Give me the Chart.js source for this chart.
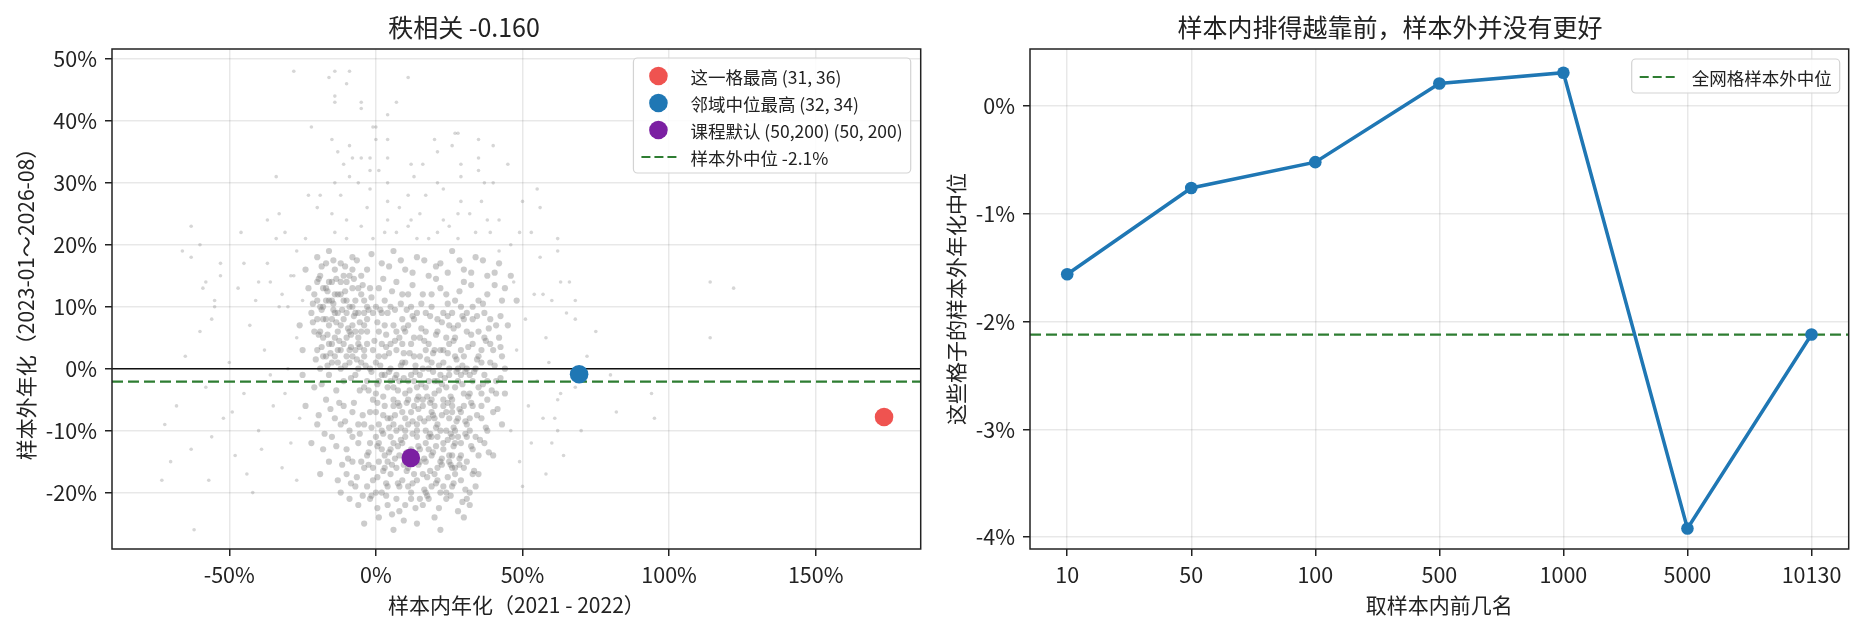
<!DOCTYPE html>
<html>
<head>
<meta charset="utf-8">
<script src="https://cdn.jsdelivr.net/npm/chart.js@4.4.1/dist/chart.umd.min.js"></script>
<style>
  html, body { margin: 0; padding: 0; background: #fff; }
  #wrap { position: relative; width: 1855px; height: 630px; }
  #c1 { position: absolute; left: 0; top: 0; width: 930px; height: 630px; }
  #c2 { position: absolute; left: 930px; top: 0; width: 925px; height: 630px; }
</style>
</head>
<body>
<div id="wrap">
  <canvas id="c1" width="930" height="630"></canvas>
  <canvas id="c2" width="925" height="630"></canvas>
</div>
<script>
// ---- left panel: in-sample vs out-of-sample annualised return (%) ----
// grid cloud
const cloudCore = [
  [-21,12],[-20,8],[-19,15],[-18,5],[-18,10],[-17,2],[-17,13],[-16,7],[-16,-1],[-15,11],[-15,4],[-14,16],[-14,9],[-13,1],[-13,6],
  [-12,12],[-12,3],[-11,8],[-11,-2],[-10,14],[-10,5],[-9,10],[-9,1],[-8,7],[-8,13],[-7,3],[-7,-1],[-6,9],[-6,5],[-5,12],[-5,1],
  [-4,7],[-4,-3],[-3,10],[-3,4],[-20,3],[-19,10],[-18,13],[-17,8],[-16,11],[-15,1],[-14,5],[-13,9],[-12,14],[-11,4],[-10,9],
  [-9,6],[-8,2],[-7,11],[-6,0],[-5,6],[-4,11],[-21,6],[-19,0],[-17,17],[-15,8],[-13,3],[-11,11],[-9,15],[-7,6],[-22,9],[-20,14],
  [-18,2],[-16,4],[-14,12],[-12,7],[-10,2],[-8,10],[-6,13],[-4,2],
  [-2,13],[3,11],[7,14],[12,10],[16,12],[22,13],[27,11],[33,10],[38,12],[43,11],[0,10],[9,12],[19,10],[30,14],
  [-3,8],[1,6],[4,9],[8,5],[11,7],[14,9],[17,6],[21,8],[24,5],[28,7],[31,9],[35,6],[39,8],[42,5],[2,9],[13,5],[26,9],[37,5],[45,7],[6,7],
  [-4,3],[0,1],[2,4],[5,0],[7,3],[10,1],[12,4],[15,2],[18,0],[20,3],[23,1],[25,4],[28,0],[30,2],[33,4],[36,1],[40,3],[44,0],[1,2],
  [9,4],[16,0],[22,3],[27,2],[34,0],[3,-1],
  [-3,-2],[0,-4],[2,-1],[4,-3],[6,-5],[8,-2],[10,-4],[12,-1],[14,-3],[16,-5],[18,-2],[20,-4],[22,-1],[24,-3],[26,-5],[28,-2],
  [30,-4],[32,-1],[35,-3],[38,-5],[41,-2],[44,-4],[5,-2],[11,-5],[17,-3],[23,-5],[29,-1],[36,-4],[-1,-5],[13,-2],[25,-1],[19,-5],
  [-2,-7],[1,-9],[3,-6],[5,-8],[7,-10],[9,-7],[11,-9],[13,-6],[15,-8],[17,-10],[19,-7],[21,-9],[23,-6],[25,-8],[27,-10],[29,-7],
  [31,-9],[33,-6],[36,-8],[40,-7],[43,-9],[6,-6],[14,-10],[20,-6],[26,-7],[32,-10],[-4,-9],[10,-8],[24,-10],[18,-8],
  [-6,-12],[-3,-14],[0,-11],[2,-13],[4,-15],[6,-12],[8,-14],[10,-11],[12,-13],[15,-15],[17,-12],[19,-14],[21,-11],[23,-13],
  [25,-15],[27,-12],[29,-14],[31,-11],[33,-13],[37,-12],[40,-14],[-8,-15],[14,-11],[22,-15],[28,-11],[5,-11],[18,-13],[26,-14],[1,-15],
  [-10,-17],[-7,-19],[-4,-16],[-1,-18],[2,-20],[5,-17],[8,-19],[11,-16],[14,-18],[17,-20],[20,-17],[23,-19],[26,-16],[29,-18],
  [32,-20],[35,-17],[-12,-20],[3,-16],[12,-20],[21,-18],[27,-17],[9,-18],[16,-17],[24,-20],[30,-16],
  [-6,-22],[-2,-21],[1,-24],[4,-22],[8,-23],[12,-21],[16,-22],[20,-24],[24,-21],[28,-23],[32,-22],[-4,-25],[6,-26],[14,-25],
  [22,-26],[30,-24],[10,-22],[-9,-21],[18,-21],
  [-24,-6],[-20,-9],[-17,-5],[-14,-8],[-11,-6],[-9,-10],[-22,-12],[-18,-13],[-15,-11],[-12,-9],[-8,-7],[-19,-17],[-16,-15],
  [-13,-18],[-10,-13],[-6,-9],[-21,-3],[-25,-1]
];
const cloudDense = [
  [-19,6],[-17,11],[-15,14],[-13,12],[-11,15],[-9,3],[-7,9],[-5,15],[-3,6],[-1,9],[1,13],[3,7],[5,10],[7,6],[9,8],[11,12],
  [13,8],[15,5],[17,9],[19,12],[21,6],[23,9],[25,7],[27,5],[29,10],[31,6],[33,8],[35,11],[37,9],[39,4],[41,7],[-1,3],[1,-2],
  [3,2],[5,4],[7,-1],[9,1],[11,-2],[13,2],[15,-1],[17,3],[19,1],[21,-2],[23,3],[25,0],[27,-3],[29,3],[31,0],[33,-2],[35,2],
  [37,-1],[39,1],[41,-4],[43,2],[0,-7],[2,-10],[4,-8],[6,-9],[8,-6],[10,-10],[12,-7],[14,-9],[16,-6],[18,-11],[20,-8],[22,-10],
  [24,-7],[26,-11],[28,-8],[30,-6],[32,-8],[34,-11],[36,-6],[38,-10],[1,-12],[3,-14],[5,-13],[7,-16],[9,-12],[11,-14],[13,-17],
  [15,-13],[17,-15],[19,-11],[21,-16],[23,-12],[25,-14],[27,-16],[29,-12],[31,-15],[33,-17],[35,-14],[-2,-12],[-5,-15],[-8,-11],
  [-1,-16],[0,-20],[4,-19],[7,-21],[11,-19],[15,-21],[19,-19],[22,-20],[26,-19],[31,-21],[34,-19],[-3,-19],[6,-3],[14,-5],
  [20,-2],[26,-6],[32,-4],[38,-2],[10,6],[18,4],[24,12],[30,8],[36,3],[-2,0],[-18,8],[-14,2],[-10,11],[-6,4],[-16,14],[-12,0],
  [-20,11],[-8,16],[-4,9],
  [-24,16],[-20,18],[-16,19],[-12,17],[-8,18],[-3,16],[2,17],[6,19],[10,16],[14,18],[18,15],[22,17],[26,19],[30,16],[34,18],
  [38,15],[42,17],[46,15],[48,11],[44,13],[-23,13],[-26,7],[-25,3]
];
const cloudFill = [
  [-19.5,14.5],[-16.5,12.5],[-13.5,14.5],[-10.5,12.5],[-7.5,14.5],[-4.5,13.5],[-1.5,11.5],[2.5,14.5],[5.5,12.5],[8.5,10.5],
  [12.5,13.5],[15.5,10.5],[20.5,14.5],[24.5,10.5],[28.5,12.5],[32.5,13.5],[36.5,10.5],[40.5,13.5],[-21.5,10.5],[-14.5,10.5],
  [-21.5,7.5],[-18.5,9.5],[-16.5,5.5],[-13.5,7.5],[-11.5,9.5],[-9.5,6.5],[-7.5,8.5],[-5.5,7.5],[-2.5,9.5],[0.5,7.5],[3.5,5.5],
  [6.5,9.5],[9.5,6.5],[12.5,8.5],[15.5,6.5],[18.5,8.5],[20.5,5.5],[22.5,7.5],[26.5,6.5],[29.5,8.5],[32.5,5.5],[34.5,8.5],
  [38.5,6.5],[42.5,8.5],[-19.5,5.5],[-14.5,9.5],[-8.5,5.5],[1.5,9.5],[10.5,9.5],[24.5,8.5],
  [-20.5,1.5],[-18.5,3.5],[-15.5,2.5],[-12.5,4.5],[-10.5,0.5],[-8.5,3.5],[-6.5,1.5],[-3.5,0.5],[-0.5,4.5],[1.5,0.5],[4.5,2.5],
  [6.5,4.5],[8.5,0.5],[11.5,2.5],[13.5,0.5],[16.5,4.5],[19.5,2.5],[21.5,0.5],[24.5,2.5],[26.5,4.5],[29.5,0.5],[31.5,3.5],
  [34.5,1.5],[37.5,4.5],[40.5,0.5],[42.5,3.5],[-16.5,0.5],[-5.5,3.5],[3.5,3.5],[17.5,1.5],[27.5,1.5],[9.5,2.5],
  [-8.5,-1.5],[-5.5,-3.5],[-1.5,-0.5],[0.5,-2.5],[2.5,-4.5],[4.5,-0.5],[7.5,-3.5],[9.5,-1.5],[11.5,-3.5],[13.5,-0.5],[15.5,-2.5],
  [17.5,-4.5],[19.5,-0.5],[21.5,-3.5],[23.5,-1.5],[25.5,-4.5],[27.5,-0.5],[29.5,-2.5],[31.5,-4.5],[33.5,-0.5],[36.5,-2.5],
  [39.5,-3.5],[42.5,-1.5],[-13.5,-3.5],[-18.5,-2.5],[-2.5,-3.5],[6.5,-1.5],[14.5,-4.5],[22.5,-2.5],[30.5,-0.5],
  [-15.5,-6.5],[-10.5,-8.5],[-7.5,-5.5],[-4.5,-7.5],[-1.5,-9.5],[0.5,-5.5],[2.5,-7.5],[4.5,-9.5],[6.5,-7.5],[8.5,-9.5],
  [10.5,-5.5],[12.5,-8.5],[14.5,-6.5],[16.5,-8.5],[18.5,-5.5],[20.5,-9.5],[22.5,-7.5],[24.5,-5.5],[26.5,-9.5],[28.5,-6.5],
  [30.5,-8.5],[32.5,-5.5],[34.5,-7.5],[37.5,-9.5],[41.5,-6.5],[-19.5,-7.5],[-12.5,-5.5],[7.5,-5.5],[19.5,-7.5],[27.5,-8.5],
  [-13.5,-12.5],[-9.5,-14.5],[-5.5,-10.5],[-2.5,-13.5],[0.5,-12.5],[2.5,-10.5],[4.5,-13.5],[6.5,-14.5],[8.5,-11.5],[10.5,-13.5],
  [12.5,-10.5],[14.5,-12.5],[16.5,-14.5],[18.5,-10.5],[20.5,-12.5],[22.5,-14.5],[24.5,-11.5],[26.5,-12.5],[28.5,-14.5],
  [30.5,-10.5],[32.5,-12.5],[35.5,-11.5],[38.5,-13.5],[-17.5,-10.5],[7.5,-12.5],[13.5,-14.5],[19.5,-13.5],[25.5,-10.5],
  [-11.5,-15.5],[-6.5,-17.5],[-2.5,-15.5],[0.5,-17.5],[3.5,-18.5],[5.5,-15.5],[7.5,-18.5],[10.5,-16.5],[12.5,-18.5],[14.5,-15.5],
  [16.5,-19.5],[18.5,-16.5],[20.5,-18.5],[22.5,-15.5],[24.5,-17.5],[26.5,-18.5],[28.5,-15.5],[30.5,-19.5],[33.5,-16.5],
  [-8.5,-18.5],[2.5,-16.5],[9.5,-15.5],[17.5,-17.5],[25.5,-15.5],
  [-4.5,-20.5],[0.5,-22.5],[3.5,-20.5],[9.5,-24.5],[13.5,-22.5],[17.5,-20.5],[21.5,-22.5],[25.5,-20.5],[29.5,-21.5],[5.5,-23.5],
  [-1.5,-20.5],
  [-18.5,16.5],[-14.5,17.5],[-10.5,16.5],[-6.5,17.5],[-1.5,18.5],[4.5,16.5],[8.5,17.5],[12.5,15.5],[16.5,17.5],[20.5,16.5],
  [24.5,15.5],[28.5,17.5],[32.5,15.5],[36.5,17.5],[40.5,15.5]
];
const cloudHalo = [
  [-72,-9],[-68,-6],[-65,2],[-63,-13],[-60,6],[-58,-3],[-57,-18],[-55,10],[-52,-8],[-50,1],[-48,-14],[-47,13],[-45,-4],[-43,7],
  [-42,-20],[-40,-10],[-38,3],[-37,17],[-35,-6],[-33,10],[-32,-16],[-30,0],[-29,-12],[-28,15],[-27,5],[-26,-8],[-66,19],[-53,17],
  [-44,-17],[-36,-1],[-62,-26],[-70,-15],[-58,14],[-46,22],[-34,21],[-31,-4],[-41,11],[-49,-7],[-56,-11],[-39,-13],[-27,-18],
  [-73,-18],
  [46,-10],[48,3],[49,-15],[51,8],[52,-6],[54,12],[55,-2],[57,-8],[58,5],[60,-12],[47,14],[50,-19],[53,-12],[59,1],[62,-5],
  [65,9],[68,-3],[75,6],[80,-1],[94,-4],[82,-7],[64,-14],[56,18],[46,20],[61,-8],[62,-10],[58,-17],[63,-4],[70,-10],[72,2],
  [114,5],[114,14],[122,13],[95,-8]
];
const cloudTail = [
  [-28,48],[-16,47],[-14,48],[-9,48],[-10,46],[11,47],[-14,44],[-14,43],[-5,43],[-5,42],[7,43],[4,41],[-22,39],[-1,39],[0,39],
  [-15,37],[-9,36],[0,37],[4,37],[20,37],[27,38],[28,38],[26,36],[35,37],[40,36],[-13,35],[-8,34],[-5,34],[-2,34],[4,34],
  [21,35],[35,34],[-11,33],[-9,31],[-2,32],[1,32],[12,33],[16,33],[29,33],[35,32],[45,33],[-34,31],[-14,30],[-6,30],[4,30],
  [13,31],[21,30],[29,31],[37,30],[40,30],[55,29],[-12,28],[-2,29],[4,27],[11,28],[17,28],[23,29],[29,27],[36,27],[50,27],
  [56,26],[-23,28],[-19,28],[-63,23],[-37,24],[-33,25],[-20,26],[-15,25],[-10,24],[-3,26],[4,24],[8,26],[12,24],[15,25],
  [23,24],[28,25],[32,25],[38,24],[42,24],[49,22],[53,22],[-31,22],[-27,19],[-24,21],[-14,22],[-10,21],[-5,23],[-1,21],[3,22],
  [7,22],[11,23],[14,21],[18,21],[21,22],[25,23],[28,21],[34,22],[39,22],[42,19],[62,21],[62,19],[-60,20],[-63,18],[-45,17],
  [-53,15],[-59,13],[-55,11],[-56,8],[-40,14],[-36,14],[-29,15],[-32,12],[-30,10],[-25,11],[66,14],[68,11],[63,14],[57,12],
  [60,11],[68,8]
];
const bestCell = [173.3, -7.8];
const bestNeighbour = [69.3, -0.9];
const courseDefault = [11.9, -14.4];
const oosMedian = -2.1;
const leftLabels = ['这一格最高 (31, 36)', '邻域中位最高 (32, 34)', '课程默认 (50,200) (50, 200)', '样本外中位 -2.1%'];
const leftXTicks = [-50, 0, 50, 100, 150];
const leftYTicks = [-20, -10, 0, 10, 20, 30, 40, 50];

// ---- right panel: median out-of-sample return of the top-N in-sample cells ----
const topN = ['10', '50', '100', '500', '1000', '5000', '10130'];
const topMedian = [-1.56, -0.76, -0.52, 0.21, 0.31, -3.92, -2.12];
const gridMedian = -2.12;
const rightYTicks = [-4, -3, -2, -1, 0];

const FONT = '"Noto Sans CJK SC", "Noto Sans", sans-serif';
const INK = '#222';
const RED = '#ef5350', BLUE = '#1f77b4', PURPLE = '#7b1fa2', GREEN = '#2e7d32';

Chart.defaults.font.family = FONT;
Chart.defaults.color = INK;

function toPts(list) {
  return list.map(p => ({x: p[0], y: p[1]}));
}

function hLine(chart, value, color, width, dash) {
  const {ctx, chartArea: a} = chart;
  const py = chart.scales.y.getPixelForValue(value);
  ctx.save();
  ctx.beginPath();
  ctx.rect(a.left, a.top, a.right - a.left, a.bottom - a.top);
  ctx.clip();
  ctx.strokeStyle = color;
  ctx.lineWidth = width;
  ctx.setLineDash(dash || []);
  ctx.beginPath();
  ctx.moveTo(a.left, py);
  ctx.lineTo(a.right, py);
  ctx.stroke();
  ctx.restore();
}

const frame = {
  id: 'frame',
  afterDraw(chart) {
    const {ctx, chartArea: a} = chart;
    ctx.save();
    ctx.strokeStyle = INK;
    ctx.lineWidth = 1.5;
    ctx.strokeRect(a.left, a.top, a.right - a.left, a.bottom - a.top);
    ctx.restore();
  }
};

// matplotlib style legend box in the upper right corner
const boxLegend = {
  id: 'boxLegend',
  afterDraw(chart, args, opts) {
    const {ctx, chartArea: a} = chart;
    ctx.save();
    ctx.font = '17.5px ' + FONT;
    let textW = 0;
    opts.items.forEach(it => { textW = Math.max(textW, ctx.measureText(it.label).width); });
    const w = opts.textX + textW + 8;
    const h = opts.firstY * 2 - 2 + (opts.items.length - 1) * opts.rowH;
    const x0 = a.right - opts.right - w, y0 = a.top + opts.top;
    ctx.fillStyle = 'rgba(255,255,255,0.85)';
    ctx.strokeStyle = '#d3d3d3';
    ctx.lineWidth = 1.2;
    ctx.beginPath();
    ctx.roundRect(x0, y0, w, h, 4);
    ctx.fill();
    ctx.stroke();
    opts.items.forEach((it, i) => {
      const cy = y0 + opts.firstY + i * opts.rowH;
      if (it.type === 'dot') {
        ctx.fillStyle = it.color;
        ctx.beginPath();
        ctx.arc(x0 + 25, cy, 9.3, 0, Math.PI * 2);
        ctx.fill();
      } else {
        ctx.strokeStyle = it.color;
        ctx.lineWidth = 2.2;
        ctx.setLineDash([9, 4]);
        ctx.beginPath();
        ctx.moveTo(x0 + 8, cy);
        ctx.lineTo(x0 + 45, cy);
        ctx.stroke();
        ctx.setLineDash([]);
      }
      ctx.fillStyle = INK;
      ctx.textBaseline = 'middle';
      ctx.fillText(it.label, x0 + opts.textX, cy + 1);
    });
    ctx.restore();
  }
};

function axis(min, max, ticks, fmt, title, fixed, horizontal) {
  return {
    type: 'linear',
    min: min,
    max: max,
    afterBuildTicks: s => { s.ticks = ticks.map(v => ({value: v})); },
    afterFit: s => { if (horizontal) s.height = fixed; else s.width = fixed; },
    grid: {color: 'rgba(0,0,0,0.09)', lineWidth: 1.5, tickLength: 7, tickColor: INK, tickWidth: 1.5},
    border: {display: false},
    ticks: {font: {size: 21.5}, color: INK, padding: horizontal ? 6 : 8, maxRotation: 0, callback: fmt},
    title: {
      display: true, text: title, color: INK, font: {size: 21},
      padding: horizontal ? {top: 0, bottom: 12} : {top: 13, bottom: 0}
    }
  };
}

const pct = v => v + '%';

new Chart(document.getElementById('c1'), {
  type: 'scatter',
  data: {
    datasets: [
      {label: leftLabels[0], data: toPts([bestCell]), backgroundColor: RED, pointRadius: 9.3, borderWidth: 0},
      {label: leftLabels[1], data: toPts([bestNeighbour]), backgroundColor: BLUE, pointRadius: 9.3, borderWidth: 0},
      {label: leftLabels[2], data: toPts([courseDefault]), backgroundColor: PURPLE, pointRadius: 9.3, borderWidth: 0},
      {
        label: 'cloud core',
        data: toPts(cloudCore.concat(cloudDense, cloudFill)),
        backgroundColor: 'rgba(120,120,120,0.38)', pointRadius: 3.1, borderWidth: 0
      },
      {
        label: 'cloud edge',
        data: toPts(cloudHalo.concat(cloudTail)),
        backgroundColor: 'rgba(128,128,128,0.32)', pointRadius: 1.8, borderWidth: 0
      }
    ]
  },
  options: {
    responsive: false,
    animation: false,
    devicePixelRatio: 1,
    layout: {padding: {left: 0, right: 2, top: 0, bottom: 0}},
    scales: {
      x: axis(-90, 185.8, leftXTicks, pct, '样本内年化（2021 - 2022）', 81, true),
      y: axis(-29.1, 51.6, leftYTicks, pct, '样本外年化（2023-01～2026-08）', 112, false)
    },
    plugins: {
      legend: {display: false},
      tooltip: {enabled: false},
      title: {
        display: true, text: '秩相关 -0.160', color: INK,
        font: {size: 25, weight: 'normal'}, padding: {top: 12, bottom: 7}
      },
      boxLegend: {
        right: 10, top: 9, textX: 57, firstY: 18, rowH: 27,
        items: [
          {label: leftLabels[0], type: 'dot', color: RED},
          {label: leftLabels[1], type: 'dot', color: BLUE},
          {label: leftLabels[2], type: 'dot', color: PURPLE},
          {label: leftLabels[3], type: 'dash', color: GREEN}
        ]
      }
    }
  },
  plugins: [frame, boxLegend, {
    id: 'refLines',
    // clouds are drawn first (highest index first), lines go between the cloud and the markers
    afterDatasetDraw(chart, args) {
      if (args.index !== 3) return;
      hLine(chart, 0, '#111', 1.6);
      hLine(chart, oosMedian, GREEN, 2.2, [11, 5]);
    }
  }]
});

new Chart(document.getElementById('c2'), {
  type: 'line',
  data: {
    datasets: [{
      label: '样本内前N名',
      data: topMedian.map((v, i) => ({x: i, y: v})),
      borderColor: BLUE, backgroundColor: BLUE, borderWidth: 3.5,
      pointRadius: 6.3, pointBorderWidth: 0, tension: 0
    }]
  },
  options: {
    responsive: false,
    animation: false,
    devicePixelRatio: 1,
    layout: {padding: {left: 0, right: 5, top: 0, bottom: 0}},
    scales: {
      x: axis(-0.3, topN.length - 0.7, topN.map((_, i) => i), v => topN[v], '取样本内前几名', 81, true),
      y: axis(-4.11, 0.53, rightYTicks, pct, '这些格子的样本外年化中位', 100, false)
    },
    plugins: {
      legend: {display: false},
      tooltip: {enabled: false},
      title: {
        display: true, text: '样本内排得越靠前，样本外并没有更好', color: INK,
        font: {size: 25, weight: 'normal'}, padding: {top: 12, bottom: 7}
      },
      boxLegend: {
        right: 9, top: 10, textX: 60, firstY: 18, rowH: 27,
        items: [{label: '全网格样本外中位', type: 'dash', color: GREEN}]
      }
    }
  },
  plugins: [frame, boxLegend, {
    id: 'refLines',
    beforeDatasetsDraw(chart) {
      hLine(chart, gridMedian, GREEN, 2.2, [11, 5]);
    }
  }]
});
</script>
</body>
</html>
